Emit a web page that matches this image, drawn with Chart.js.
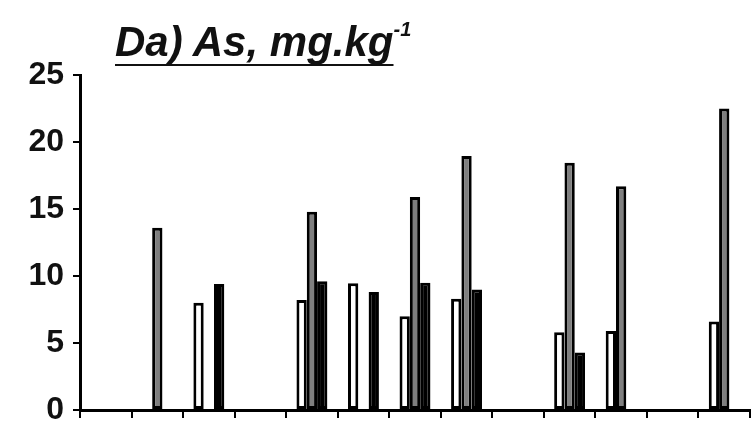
<!DOCTYPE html>
<html>
<head>
<meta charset="utf-8">
<script src="https://cdn.jsdelivr.net/npm/chart.js@4"></script>
<style>
  body { margin: 0; background: #fff; }
  #wrap { position: relative; width: 755px; height: 421px; }
  #title {
    position: absolute; left: 115px; top: 21px;
    font: italic bold 42px "Liberation Sans", Arial, sans-serif;
    line-height: 42px; color: #111; white-space: nowrap;
  }
  #title .u {
    text-decoration: underline;
    text-decoration-thickness: 2px;
    text-underline-offset: 8px;
    text-decoration-skip-ink: none;
  }
  #title sup { font-size: 20px; vertical-align: baseline; position: relative; top: -20px; }
</style>
</head>
<body>
<div id="wrap">
  <canvas id="myChart"></canvas>
  <div id="title"><span class="u">Da) As, mg.kg</span><sup>-1</sup></div>
</div>
<script>
// sampling sites (no labels shown on the original axis)
const sites = ['1', '2', '3', '4', '5', '6', '7', '8', '9', '10', '11', '12', '13'];

const whiteVals = [null, null, 8.0, null, 8.2, 9.45, 7.0, 8.3, null, 5.8, 5.9, null, 6.6];
const grayVals  = [null, 13.6, null, null, 14.8, null, 15.9, 18.95, null, 18.45, 16.7, null, 22.5];
const blackVals = [null, null, 9.4, null, 9.6, 8.8, 9.5, 9.0, null, 4.3, null, null, null];

const yTicks = [0, 5, 10, 15, 20, 25];

const barStyle = {
  borderColor: '#000',
  borderWidth: 3,
  borderSkipped: false,
  barPercentage: 1.0,
  categoryPercentage: 0.6,
};

const data = {
  labels: sites,
  datasets: [
    { label: 'white', data: whiteVals, backgroundColor: '#ffffff', ...barStyle },
    { label: 'gray', data: grayVals, backgroundColor: '#7f7f7f', ...barStyle },
    { label: 'black', data: blackVals, backgroundColor: '#000000', ...barStyle },
  ]
};

const config = {
  type: 'bar',
  data,
  options: {
    responsive: true,
    maintainAspectRatio: false,
    animation: false,
    layout: { padding: { top: 75, right: 5, bottom: 0, left: 0 } },
    plugins: { legend: { display: false }, tooltip: { enabled: false } },
    scales: {
      x: {
        offset: true,
        border: { display: true, color: '#000', width: 3 },
        grid: { offset: true, drawOnChartArea: false, tickLength: 8, color: '#000', lineWidth: 2 },
        ticks: { display: false },
        afterFit: (s) => { s.height = 11; }
      },
      y: {
        min: 0,
        max: 25,
        afterBuildTicks: (s) => { s.ticks = yTicks.map(v => ({ value: v })); },
        border: { display: true, color: '#000', width: 3 },
        grid: { drawOnChartArea: false, tickLength: 7, color: '#000', lineWidth: 2 },
        ticks: {
          padding: 9,
          color: '#111',
          font: { family: '"Liberation Sans", Arial, sans-serif', size: 32, weight: 'bold' }
        },
        afterFit: (s) => { s.width = 80; s.paddingTop = 0; s.paddingBottom = 0; }
      }
    }
  }
};

var myChart = new Chart(document.getElementById('myChart'), config);
</script>
</body>
</html>
